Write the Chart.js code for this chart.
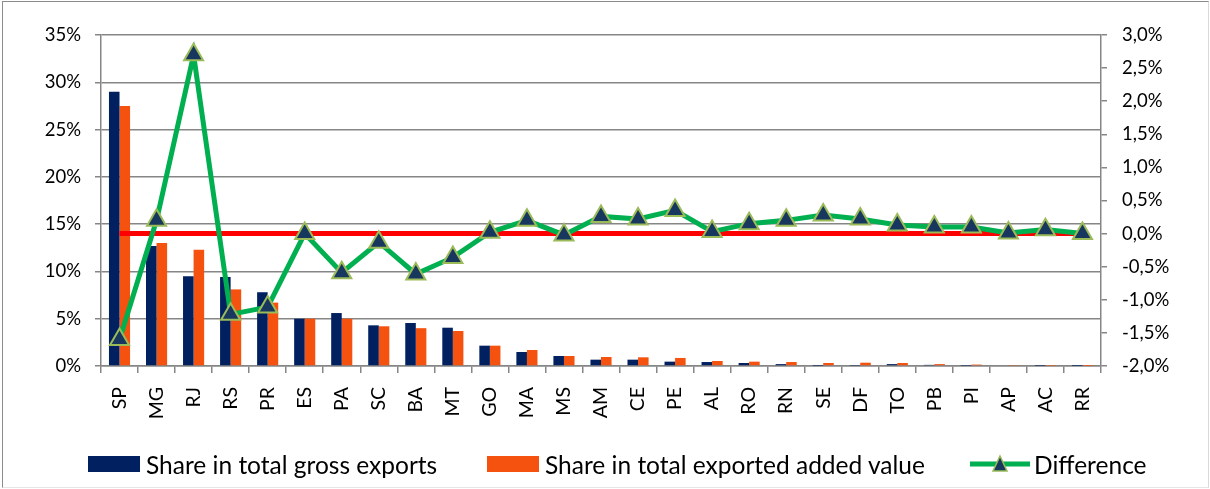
<!DOCTYPE html>
<html>
<head>
<meta charset="utf-8">
<script src="https://cdn.jsdelivr.net/npm/chart.js@4"></script>
<style>
  body { margin: 0; background: #fff; font-family: "Lato", sans-serif; }
  #wrap { position: relative; width: 1210px; height: 489px; }
  #frame { position: absolute; left: 2px; top: 1px; width: 1205px; height: 485px;
           border-left: 1px solid #8c8c8c; border-top: 1px solid #8c8c8c;
           border-right: 1px solid #d9d9d9; border-bottom: 1px solid #e6e6e6; pointer-events: none; }
  .item { position: absolute; top: 451px; height: 26px; display: flex; align-items: center;
          font-size: 24.5px; color: #000; white-space: nowrap; }
  .box { width: 52px; height: 16px; margin-right: 6px; }
</style>
</head>
<body>
<div id="wrap">
  <canvas id="chart" width="1210" height="489"></canvas>
  <div id="frame"></div>
  <div class="item" style="left:88px"><span class="box" style="background:#002060"></span>Share in total gross exports</div>
  <div class="item" style="left:487px"><span class="box" style="background:#F5520F"></span>Share in total exported added value</div>
  <div class="item" style="left:970px">
    <svg width="60" height="20" style="margin-right:4px">
      <line x1="0" y1="10" x2="60" y2="10" stroke="#00B050" stroke-width="5"/>
      <polygon points="30,2 37,17 23,17" fill="#17375E" stroke="#9BBB59" stroke-width="1.5"/>
    </svg>Difference
  </div>
</div>
<script>
const states = ["SP","MG","RJ","RS","PR","ES","PA","SC","BA","MT","GO","MA","MS","AM","CE","PE","AL","RO","RN","SE","DF","TO","PB","PI","AP","AC","RR"]
const grossShare = [29.0, 12.7, 9.5, 9.4, 7.8, 5.0, 5.6, 4.3, 4.55, 4.05, 2.15, 1.48, 1.06, 0.67, 0.67, 0.46, 0.42, 0.32, 0.2, 0.02, 0.04, 0.2, 0.12, 0.03, 0.08, 0.02, 0.01]
const addedValueShare = [27.5, 13.0, 12.3, 8.1, 6.7, 5.0, 5.0, 4.2, 4.0, 3.7, 2.15, 1.69, 1.06, 0.95, 0.92, 0.85, 0.53, 0.46, 0.42, 0.32, 0.35, 0.32, 0.2, 0.15, 0.05, 0.03, 0.01]
const difference = [-1.6, 0.2, 2.7, -1.22, -1.11, 0.0, -0.59, -0.13, -0.61, -0.36, 0.02, 0.2, -0.02, 0.26, 0.22, 0.35, 0.03, 0.15, 0.2, 0.28, 0.22, 0.13, 0.1, 0.1, 0.01, 0.06, 0.0]
const zeroLine = [0,0,0,0,0,0,0,0,0,0,0,0,0,0,0,0,0,0,0,0,0,0,0,0,0,0,0]

Chart.defaults.font.family = "Lato"
Chart.defaults.color = "#000"

const gridGray = "#868686"

new Chart("chart", {
    type: "bar",
    data: {
        labels: states,
        datasets: [{
            label: "Difference",
            type: "line",
            data: difference,
            yAxisID: "y1",
            borderColor: "#00B050",
            borderWidth: 5,
            tension: 0,
            pointStyle: "triangle",
            pointRadius: 11,
            pointBackgroundColor: "#17375E",
            pointBorderColor: "#9BBB59",
            pointBorderWidth: 2,
            order: 0
        }, {
            label: "Zero",
            type: "line",
            data: zeroLine,
            yAxisID: "y1",
            borderColor: "#FF0000",
            borderWidth: 5,
            pointRadius: 0,
            order: 1
        }, {
            label: "Share in total gross exports",
            data: grossShare,
            backgroundColor: "#002060",
            yAxisID: "y",
            order: 2
        }, {
            label: "Share in total exported added value",
            data: addedValueShare,
            backgroundColor: "#F5520F",
            yAxisID: "y",
            order: 2
        }]
    },
    options: {
        responsive: false,
        animation: false,
        layout: { padding: { top: 35, left: 0, right: 0, bottom: 0 } },
        datasets: { bar: { categoryPercentage: 0.57, barPercentage: 1 } },
        plugins: { legend: { display: false }, tooltip: { enabled: false } },
        scales: {
            x: {
                grid: { drawOnChartArea: false, tickLength: 7, color: gridGray, lineWidth: 1.5 },
                border: { color: gridGray, width: 1.5 },
                ticks: { font: { size: 19.5 }, maxRotation: 90, minRotation: 90, padding: 14 },
                afterFit: s => { s.height = 123 }
            },
            y: {
                position: "left",
                min: 0, max: 35,
                grid: { color: gridGray, lineWidth: 1.5, tickLength: 6 },
                border: { color: gridGray, width: 1.5 },
                ticks: { stepSize: 5, font: { size: 18.5 }, padding: 14, callback: v => v + "%" },
                afterFit: s => { s.width = 101 }
            },
            y1: {
                position: "right",
                min: -2, max: 3,
                grid: { drawOnChartArea: false, color: gridGray, lineWidth: 1.5, tickLength: 6 },
                border: { color: gridGray, width: 1.5 },
                ticks: { stepSize: 0.5, font: { size: 18.5 }, padding: 15,
                    callback: v => v.toFixed(1).replace(".", ",") + "%" },
                afterFit: s => { s.width = 109 }
            }
        }
    }
})
</script>
</body>
</html>
